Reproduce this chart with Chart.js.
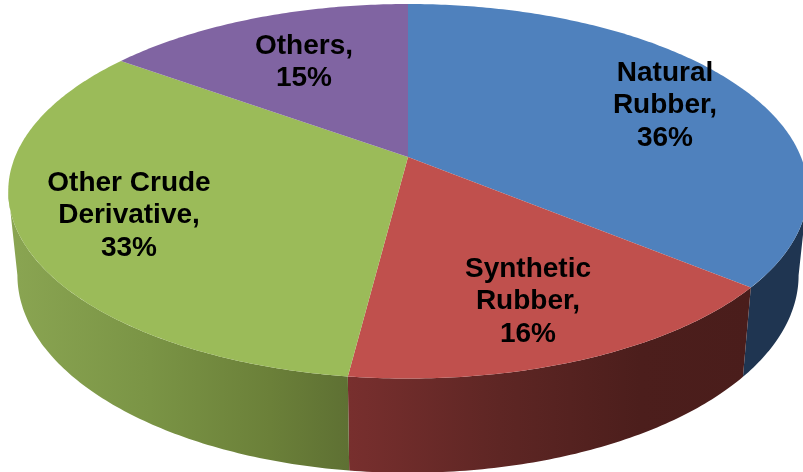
<!DOCTYPE html>
<html>
<head>
<meta charset="utf-8">
<title>Rubber sources</title>
<script src="https://cdn.jsdelivr.net/npm/chart.js@4"></script>
<style>
    html, body { margin: 0; padding: 0; background: #ffffff; overflow: hidden; }
    canvas { display: block; }
</style>
</head>
<body>
<canvas id="myChart" width="803" height="472"></canvas>
<script>
const categories = ['Natural Rubber', 'Synthetic Rubber', 'Other Crude Derivative', 'Others'];
const shares = [36, 16, 33, 15];

const faceColors = ['#4f81bd', '#c0504d', '#9bbb59', '#8064a2'];
// side wall colours, as [x, colour] stops running left to right
const wallStops = [
    [[700, '#1f3551'], [800, '#1f3551']],
    [[348, '#782f2e'], [500, '#5e2624'], [640, '#4c1e1c'], [752, '#4a1d1b']],
    [[10, '#8aa552'], [150, '#7a9445'], [270, '#6b8039'], [350, '#5e7033']],
    [[100, '#5f4b7a'], [408, '#5f4b7a']]
];

// where each label block is centred, x and the first line's y
const labelSpots = [[665, 73], [528, 269], [129, 183], [304, 46]];
const labelFont = 'bold 28px "Liberation Sans", Arial, sans-serif';
const lineHeight = 32.7;

// tilted disc: unit circle point -> screen, with perspective around the apex
const tilt = 0.183;
const topFace = { cx: 408, cy: 157, rx: 393, ry: 181 };
const bottomFace = { cx: 408, cy: 239, rx: 384, ry: 191 };

// the wall only shows between the two points where the outline turns back
const wallFrom = Math.asin(tilt);
const wallTo = Math.PI - Math.asin(tilt);

function project(face, angle) {
    const x = Math.cos(angle);
    const y = Math.sin(angle);
    const w = 1 - tilt * y;
    return [face.cx + face.rx * x / w, face.cy + face.ry * y / w];
}

function traceArc(ctx, face, from, to) {
    const steps = Math.ceil(Math.abs(to - from) * 80);
    for (let i = 0; i <= steps; i++) {
        const p = project(face, from + (to - from) * i / steps);
        ctx.lineTo(p[0], p[1]);
    }
}

function wallGradient(ctx, stops) {
    const x0 = stops[0][0];
    const x1 = stops[stops.length - 1][0];
    const gradient = ctx.createLinearGradient(x0, 0, x1, 0);
    stops.forEach(s => gradient.addColorStop((s[0] - x0) / (x1 - x0), s[1]));
    return gradient;
}

function wrapLabel(ctx, text) {
    const lines = [];
    let line = '';
    text.split(' ').forEach(word => {
        const next = line ? line + ' ' + word : word;
        if (line && ctx.measureText(next).width > 170) {
            lines.push(line);
            line = word;
        } else {
            line = next;
        }
    });
    lines.push(line);
    return lines;
}

// the arcs keep their angles from the library, only the drawing is replaced
const tiltedPie = {
    id: 'tiltedPie',
    beforeDatasetsDraw(chart) {
        const ctx = chart.ctx;
        const arcs = chart.getDatasetMeta(0).data;

        arcs.forEach((arc, i) => {
            const from = Math.max(arc.startAngle, wallFrom);
            const to = Math.min(arc.endAngle, wallTo);
            if (from >= to) return;
            ctx.beginPath();
            traceArc(ctx, topFace, from, to);
            traceArc(ctx, bottomFace, to, from);
            ctx.closePath();
            ctx.fillStyle = wallGradient(ctx, wallStops[i]);
            ctx.fill();
        });

        arcs.forEach((arc, i) => {
            ctx.beginPath();
            ctx.moveTo(topFace.cx, topFace.cy);
            traceArc(ctx, topFace, arc.startAngle, arc.endAngle);
            ctx.closePath();
            ctx.fillStyle = faceColors[i];
            ctx.fill();
        });

        ctx.font = labelFont;
        ctx.fillStyle = '#000000';
        ctx.textAlign = 'center';
        ctx.textBaseline = 'middle';
        categories.forEach((name, i) => {
            const lines = wrapLabel(ctx, name + ',');
            lines.push(shares[i] + '%');
            lines.forEach((line, j) => {
                ctx.fillText(line, labelSpots[i][0], labelSpots[i][1] + j * lineHeight);
            });
        });
        return false;
    }
};

const chart = new Chart(document.getElementById('myChart').getContext('2d'), {
    type: 'pie',
    data: {
        labels: categories,
        datasets: [{
            data: shares,
            backgroundColor: faceColors,
            borderWidth: 0
        }]
    },
    options: {
        responsive: false,
        animation: false,
        plugins: {
            legend: { display: false },
            tooltip: { enabled: false }
        }
    },
    plugins: [tiltedPie]
});
</script>
</body>
</html>
